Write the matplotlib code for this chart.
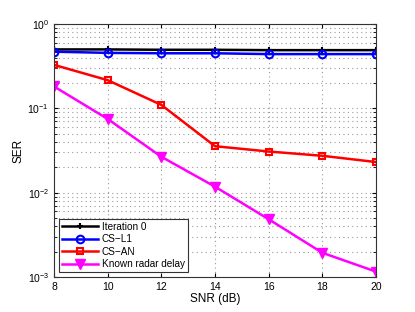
import matplotlib
matplotlib.use("Agg")
import matplotlib.pyplot as plt
from matplotlib.ticker import LogLocator, NullFormatter

plt.rcParams['font.family'] = ['Liberation Sans', 'DejaVu Sans']

snr = [8, 10, 12, 14, 16, 18, 20]
iter0 = [0.50, 0.50, 0.495, 0.495, 0.49, 0.49, 0.49]
cs_l1 = [0.47, 0.455, 0.45, 0.45, 0.44, 0.44, 0.44]
cs_an = [0.328, 0.216, 0.11, 0.0356, 0.0308, 0.0274, 0.0231]
known = [0.182, 0.075, 0.0267, 0.0118, 0.00485, 0.00194, 0.00116]

fig = plt.figure(figsize=(4.15, 3.12), dpi=100)
ax = fig.add_axes([0.130, 0.112, 0.776, 0.811])

ax.semilogy(snr, iter0, color='black', lw=1.8, marker='+', ms=5, mew=1.5, label='Iteration 0')
ax.semilogy(snr, cs_l1, color='blue', lw=1.8, marker='o', ms=5.5, mfc='none', mew=1.5, label='CS\u2212L1')
ax.semilogy(snr, cs_an, color='red', lw=1.8, marker='s', ms=5, mfc='none', mew=1.5, label='CS\u2212AN')
ax.semilogy(snr, known, color='magenta', lw=1.8, marker='v', ms=7, label='Known radar delay')

ax.set_xlim(8, 20)
ax.set_ylim(1e-3, 1)
ax.set_xticks(snr)
ax.yaxis.set_major_locator(LogLocator(base=10, numticks=10))
ax.yaxis.set_minor_locator(LogLocator(base=10, subs=range(2, 10), numticks=20))
ax.yaxis.set_minor_formatter(NullFormatter())
ax.grid(True, which='both', linestyle=(0, (1, 3)), color='#999999', lw=0.8)
ax.tick_params(which='both', direction='in', top=True, right=True, labelsize=7.5)
ax.tick_params(which='major', length=3)
ax.tick_params(which='minor', length=2)
for s in ax.spines.values():
    s.set_color('#333333')
    s.set_linewidth(0.8)

ax.set_xlabel('SNR (dB)', fontsize=8.5, labelpad=1)
ax.set_ylabel('SER', fontsize=8.5, labelpad=2)

leg = ax.legend(loc='lower left', fontsize=7.2, fancybox=False, framealpha=1,
                edgecolor='#333333', borderpad=0.3, labelspacing=0.25,
                handlelength=3.6, handletextpad=0.4, borderaxespad=0.5)
leg.get_frame().set_linewidth(0.8)

fig.savefig('out.png', dpi=100)
